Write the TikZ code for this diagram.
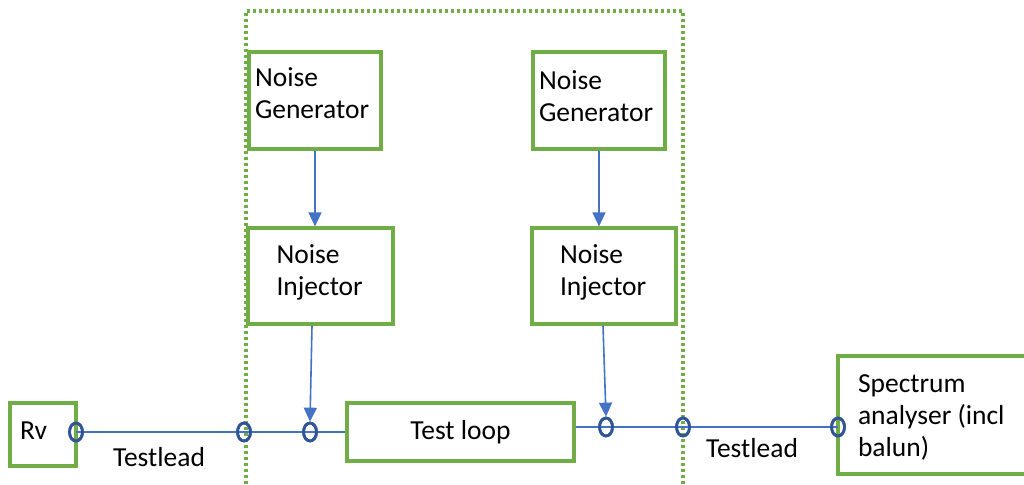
\documentclass[tikz,border=0pt]{standalone}
\usepackage{fontspec}
\setmainfont{Carlito}
\usetikzlibrary{arrows.meta,shapes.geometric}
\definecolor{boxgreen}{HTML}{70AD47}
\definecolor{lineblue}{HTML}{4472C4}
\definecolor{ringblue}{HTML}{2F5597}
\newcommand{\blocktext}[3]{\begin{minipage}{#1}\raggedright #3\par\vspace{#2}\end{minipage}}
\tikzset{
  txt/.style={font=\fontsize{27.5}{32}\selectfont},
  gbox/.style={draw=boxgreen, line width=3.2pt, txt, inner sep=0pt},
  ring/.style={ellipse, draw=ringblue, line width=2.7pt, minimum width=13pt, minimum height=18pt, inner sep=0pt},
  wire/.style={draw=lineblue, line width=1.6pt},
  arr/.style={wire, -{Triangle[width=13pt,length=14pt]}},
  frame/.style={draw=boxgreen, line width=3.6pt, dash pattern=on 3pt off 3pt}
}
\begin{document}
\begin{tikzpicture}[x=1pt,y=-1pt]
\clip (0,0) rectangle (1024,484);
% dotted frame
\coordinate (fbl) at (246,490);
\coordinate (ftl) at (246,11);
\coordinate (ftr) at (683,11);
\coordinate (fbr) at (683,490);
\draw[frame] (fbl) -- (ftl) -- (ftr) -- (fbr);
% boxes
\node[gbox, minimum width=132pt, minimum height=97pt] (gen1) at (315,100.5) {\blocktext{120pt}{14pt}{Noise\\Generator}};
\node[gbox, minimum width=132pt, minimum height=97pt] (gen2) at (599,100.5) {\blocktext{120pt}{8pt}{Noise\\Generator}};
\node[gbox, minimum width=145pt, minimum height=96pt] (inj1) at (320.5,276) {\blocktext{88pt}{7pt}{Noise\\Injector}};
\node[gbox, minimum width=144pt, minimum height=96pt] (inj2) at (604,276) {\blocktext{88pt}{7pt}{Noise\\Injector}};
\node[gbox, minimum width=227pt, minimum height=58pt] (loop) at (460.5,432) {Test loop};
\node[gbox, minimum width=66pt, minimum height=63pt] (rv) at (43,434.5) {\blocktext{46pt}{8pt}{Rv}};
\node[gbox, minimum width=200pt, minimum height=118pt] (sa) at (938,415) {\blocktext{160pt}{-4pt}{Spectrum\\analyser (incl\\balun)}};
% rings
\node[ring] (c1) at (76,432) {};
\node[ring] (c2) at (244,432) {};
\node[ring] (c3) at (310,432) {};
\node[ring] (c4) at (606,427) {};
\node[ring] (c5) at (683,427) {};
\node[ring] (c6) at (838,427) {};
% wires
\draw[wire] (c1.center) -- (c2.center) -- (c3.center) -- (loop.west |- c3);
\draw[wire] (loop.east |- c4) -- (c4.center) -- (c5.center) -- (c6.center);
\draw[arr] (gen1.south) -- (inj1.north -| gen1.south);
\draw[arr] (gen2.south) -- (inj2.north -| gen2.south);
\draw[arr] ([xshift=-8.5pt]inj1.south) -- (c3.north);
\draw[arr] ([xshift=-1pt]inj2.south) -- (c4.north);
% redraw rings over wires
\node[ring] at (c1) {};
\node[ring] at (c2) {};
\node[ring] at (c3) {};
\node[ring] at (c4) {};
\node[ring] at (c5) {};
\node[ring] at (c6) {};
% labels
\node[txt] (tl1) at (159,457) {Testlead};
\node[txt] (tl2) at (752,448) {Testlead};
\end{tikzpicture}
\end{document}
